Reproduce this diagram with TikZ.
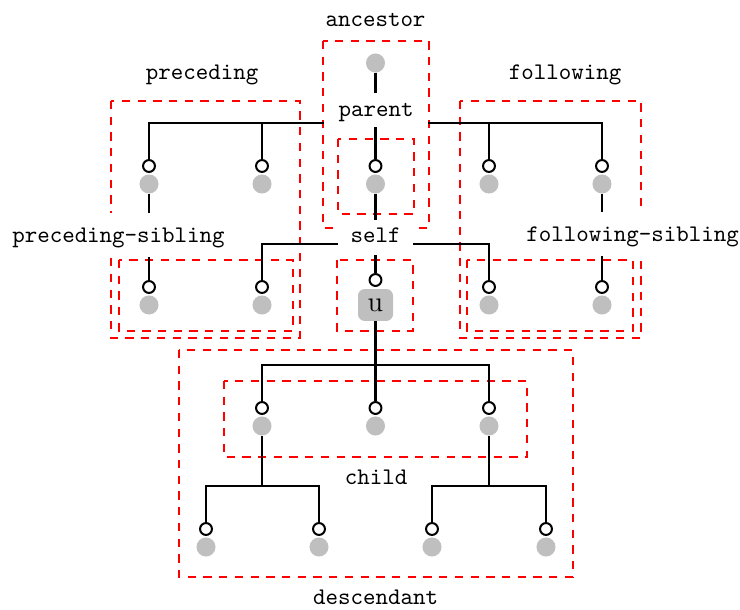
\documentclass[tikz,border=0pt]{standalone}
\begin{document}
\begin{tikzpicture}[x=0.42pt,y=-0.42pt,font=\ttfamily,
  edge/.style={line width=0.85pt},
  axisbox/.style={red,line width=0.95pt,dash pattern=on 3.5pt off 3.1pt},
  item/.style={circle,fill=black!25,minimum size=8pt,inner sep=0pt},
  hook/.style={circle,draw,fill=white,line width=0.85pt,minimum size=5pt,inner sep=0pt},
  ctx/.style={rounded corners=2.8pt,fill=black!25,minimum width=14.7pt,minimum height=13.4pt,inner sep=0pt,font=\rmfamily\large},
  axislabel/.style={anchor=base},
  cutlabel/.style={anchor=base,fill=white,inner ysep=0pt,inner xsep=5.5pt}]
\useasboundingbox (0,0) rectangle (740,610);

% axis regions
\draw[axisbox] (323,41) rectangle (429,228);   % ancestor
\draw[axisbox] (338,139) rectangle (414,214);  % parent
\draw[axisbox] (111,101) rectangle (300,338);  % preceding
\draw[axisbox] (119,260) rectangle (293,331);  % preceding-sibling
\draw[axisbox] (460,101) rectangle (641,338);  % following
\draw[axisbox] (467,260) rectangle (633,331);  % following-sibling
\draw[axisbox] (337,260) rectangle (413,331);  % self
\draw[axisbox] (224,381) rectangle (527,457);  % child
\draw[axisbox] (179,350) rectangle (573,577);  % descendant

% levels of the tree
\coordinate (bar1) at (0,123);
\coordinate (bar2) at (0,244);
\coordinate (bar3) at (0,365);
\coordinate (bar4) at (0,486);

% root
\node[item] (r) at (375.5,63) {};
% level 2
\node[item] (a1) at (149,184) {};   \node[hook] (ha1) at (149,166) {};
\node[item] (a2) at (262,184) {};   \node[hook] (ha2) at (262,166) {};
\node[item] (a3) at (375.5,184) {}; \node[hook] (ha3) at (375.5,166) {};
\node[item] (a4) at (489,184) {};   \node[hook] (ha4) at (489,166) {};
\node[item] (a5) at (602,184) {};   \node[hook] (ha5) at (602,166) {};
% level 3 with the context node
\node[item] (b1) at (149,305) {};   \node[hook] (hb1) at (149,287) {};
\node[item] (b2) at (262,305) {};   \node[hook] (hb2) at (262,287) {};
\node[ctx]  (u)  at (375.5,305) {u}; \node[hook] (hu) at (375.5,280) {};
\node[item] (b4) at (489,305) {};   \node[hook] (hb4) at (489,287) {};
\node[item] (b5) at (602,305) {};   \node[hook] (hb5) at (602,287) {};
% level 4
\node[item] (c1) at (262,426) {};   \node[hook] (hc1) at (262,408) {};
\node[item] (c2) at (375.5,426) {}; \node[hook] (hc2) at (375.5,408) {};
\node[item] (c3) at (489,426) {};   \node[hook] (hc3) at (489,408) {};
% level 5
\node[item] (d1) at (206,547) {};   \node[hook] (hd1) at (206,529) {};
\node[item] (d2) at (319,547) {};   \node[hook] (hd2) at (319,529) {};
\node[item] (d3) at (432,547) {};   \node[hook] (hd3) at (432,529) {};
\node[item] (d4) at (546,547) {};   \node[hook] (hd4) at (546,529) {};

% tree edges
\foreach \h in {ha1,ha2,ha3,ha4,ha5} \draw[edge] (r) -- (r |- bar1) -| (\h);
\draw[edge] (a1) -- (hb1);
\draw[edge] (a5) -- (hb5);
\foreach \h in {hb2,hu,hb4} \draw[edge] (a3) -- (a3 |- bar2) -| (\h);
\foreach \h in {hc1,hc2,hc3} \draw[edge] (u) -- (u |- bar3) -| (\h);
\foreach \h in {hd1,hd2} \draw[edge] (c1) -- (c1 |- bar4) -| (\h);
\foreach \h in {hd3,hd4} \draw[edge] (c3) -- (c3 |- bar4) -| (\h);

% axis names
\node[axislabel] (lanc)  at (375.5,27) {ancestor};
\node[axislabel] (lprec) at (202,80) {preceding};
\node[axislabel] (lfoll) at (565,80) {following};
\node[axislabel] (lchild) at (376,485) {child};
\node[axislabel] (ldesc) at (375.5,605) {descendant};
\node[cutlabel,text height=10.1pt,text depth=4.2pt,inner xsep=5.9pt] (lpar) at (376,117) {parent};
\node[cutlabel,text height=9.7pt,text depth=5pt,inner xsep=5.25pt] (lself) at (375.5,243) {self};
\node[cutlabel,text height=12.6pt,text depth=5.9pt] (lpsib) at (118.5,243) {preceding-sibling};
\node[cutlabel,text height=12.6pt,text depth=5.9pt] (lfsib) at (632.5,242) {following-sibling};
\end{tikzpicture}
\end{document}
